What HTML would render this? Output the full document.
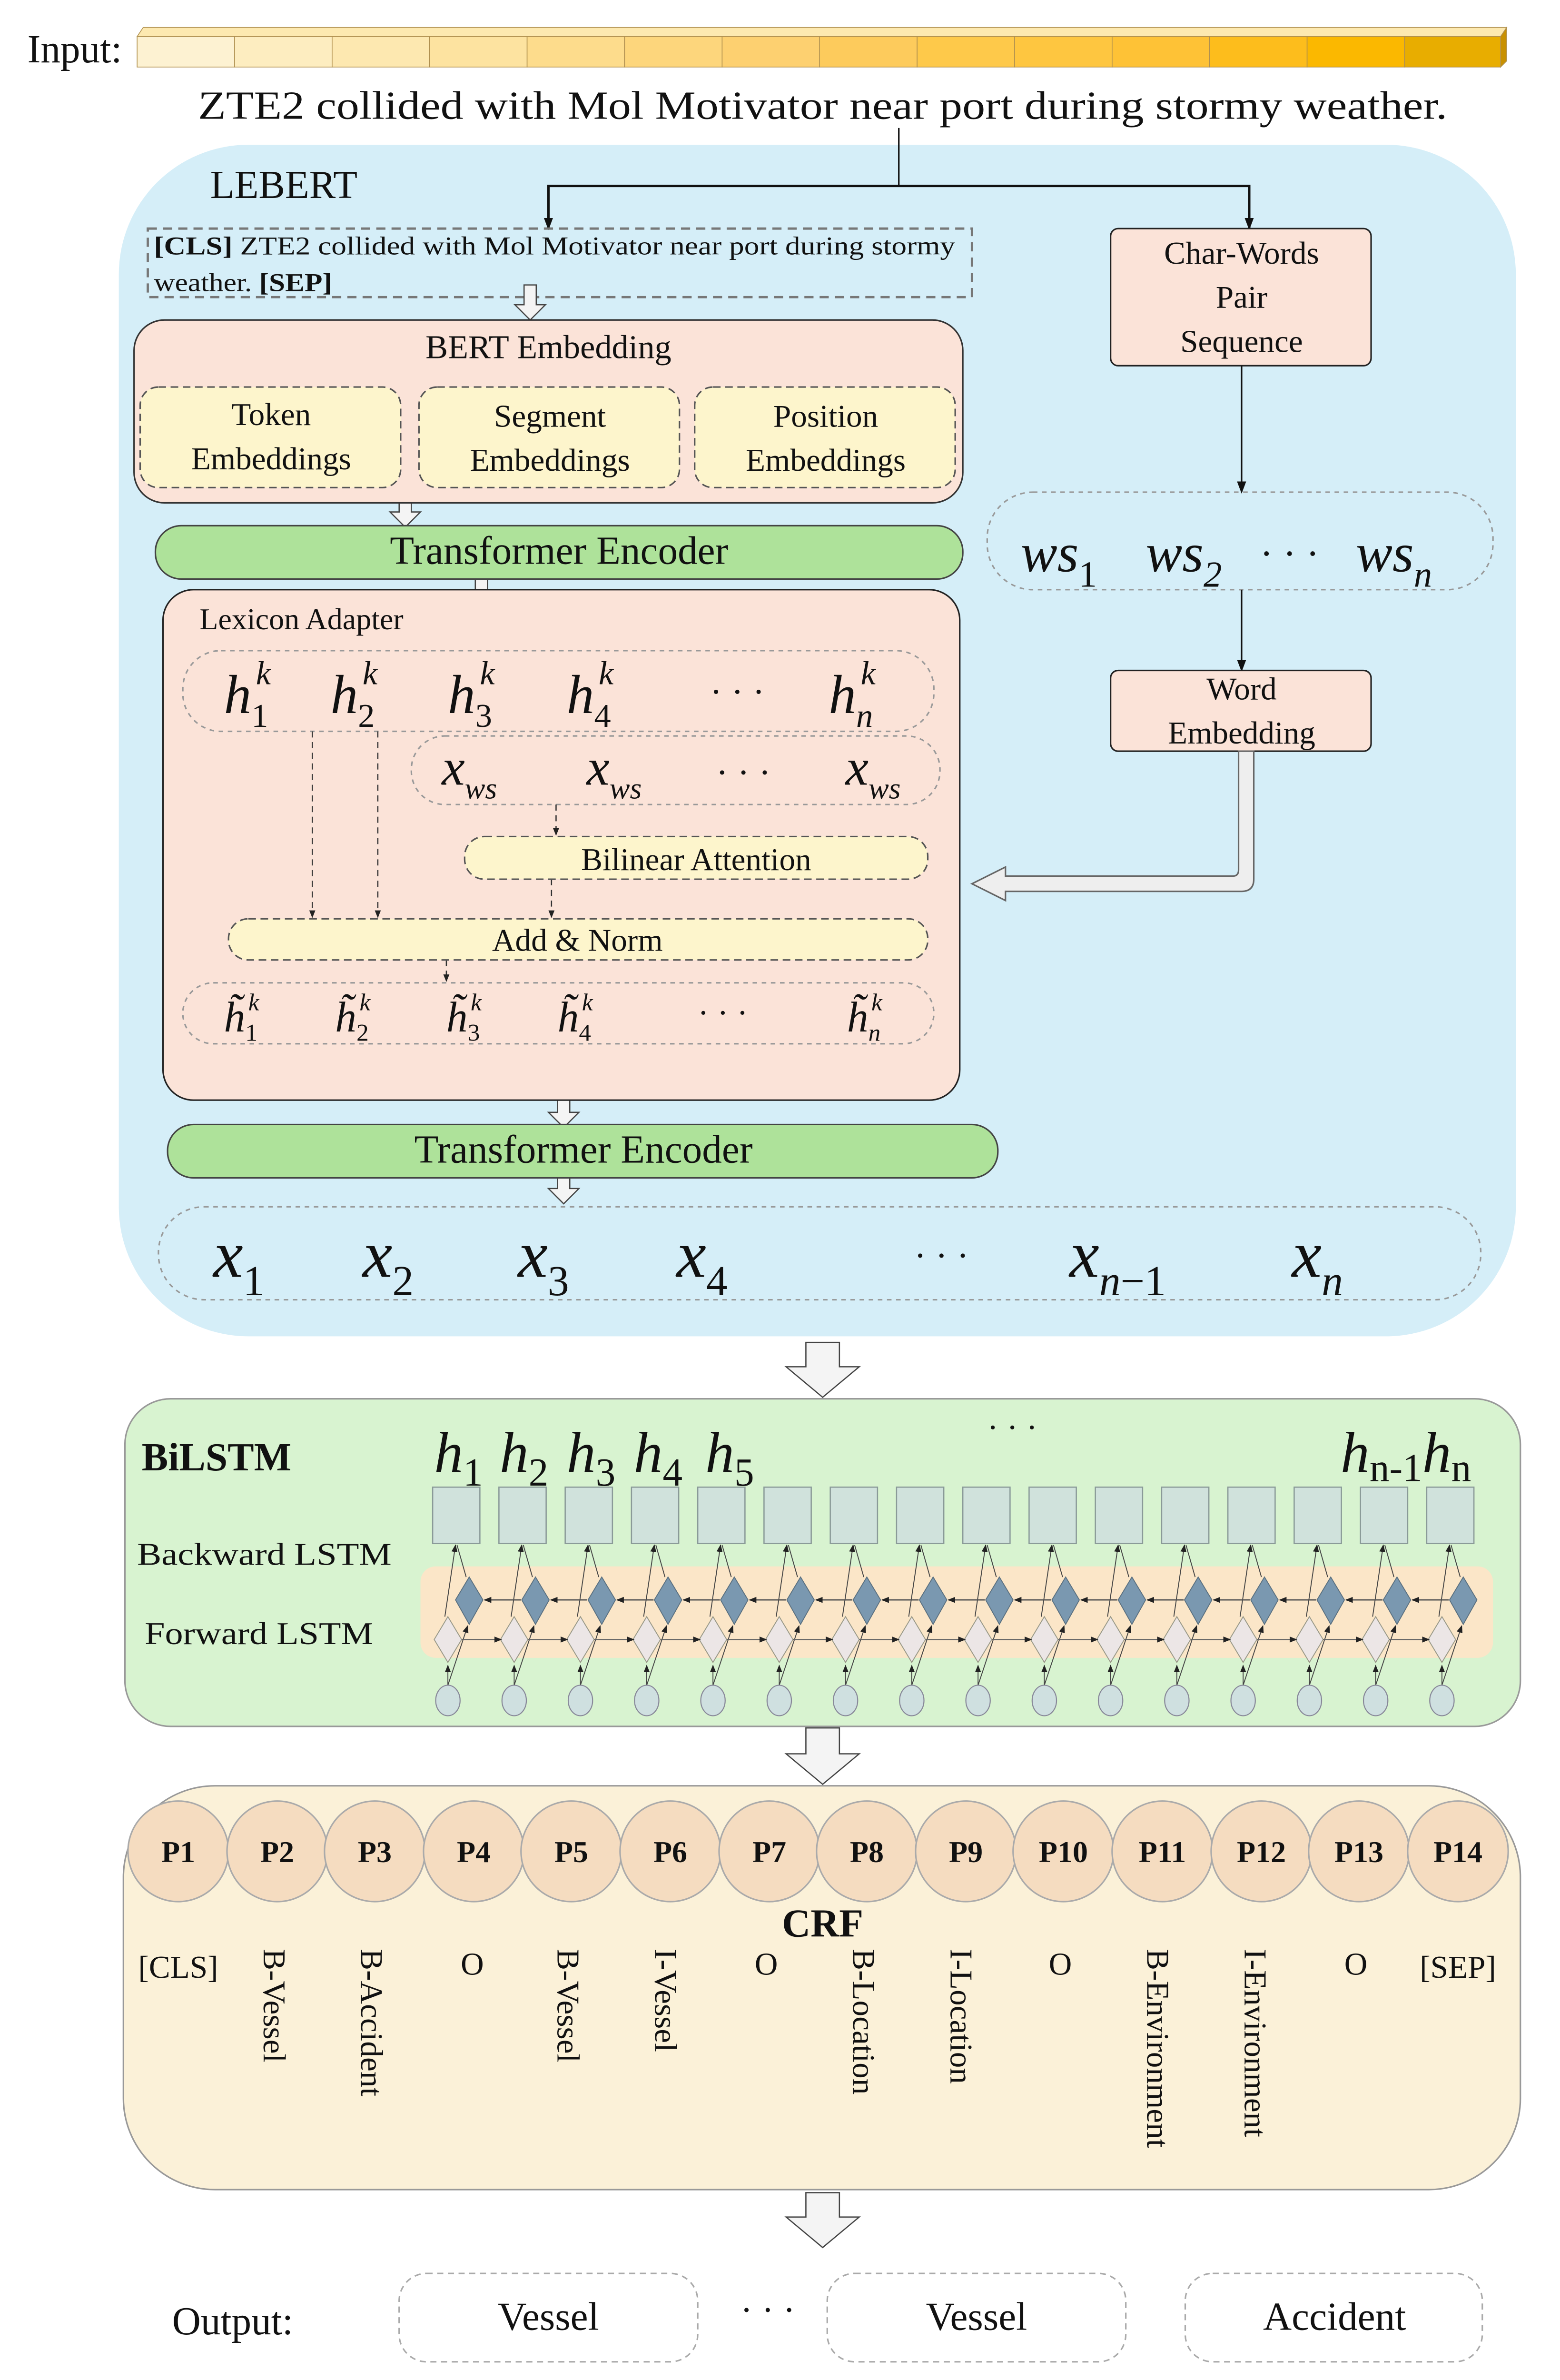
<!DOCTYPE html>
<html><head><meta charset="utf-8"><style>html,body{margin:0;padding:0;background:#fff;width:3278px;height:5036px;overflow:hidden}svg{display:block}text{font-family:"Liberation Serif","Times New Roman",Times,serif;fill:#111}</style></head><body>
<svg width="3278" height="5036" viewBox="0 0 1024 1573.2" preserveAspectRatio="none" xmlns="http://www.w3.org/2000/svg">
<defs>
<marker id="a" markerWidth="8" markerHeight="8" refX="7" refY="4" orient="auto" markerUnits="userSpaceOnUse"><path d="M0,1 L8,4 L0,7 Z" fill="#111"/></marker>
<marker id="s" markerWidth="5" markerHeight="5" refX="4.5" refY="2.5" orient="auto" markerUnits="userSpaceOnUse"><path d="M0,0.5 L5,2.5 L0,4.5 Z" fill="#222"/></marker>
<g id="u">
<rect x="0" y="976" width="31" height="37" fill="#d0e2dc" stroke="#8a9a98" stroke-width="0.8"/>
<line x1="10" y1="1106" x2="10" y2="1093" stroke="#444" stroke-width="0.6" marker-end="url(#s)"/>
<line x1="10" y1="1106" x2="23" y2="1067" stroke="#444" stroke-width="0.6" marker-end="url(#s)"/>
<line x1="8" y1="1061" x2="15" y2="1014" stroke="#444" stroke-width="0.6" marker-end="url(#s)"/>
<line x1="22" y1="1035" x2="16" y2="1014" stroke="#444" stroke-width="0.6"/>
<polygon points="24,1035 33,1050 24,1066 15,1050" fill="#7a98b0" stroke="#5a7080" stroke-width="0.6"/>
<polygon points="10,1061 19,1076 10,1091 1,1076" fill="#ece6e6" stroke="#998" stroke-width="0.6"/>
<ellipse cx="10" cy="1116" rx="8" ry="10" fill="#cfe0e0" stroke="#889" stroke-width="0.7"/>
</g>
<g id="fw"><line x1="19" y1="1076" x2="45" y2="1076" stroke="#666" stroke-width="0.8" marker-end="url(#s)"/><line x1="58" y1="1050" x2="34" y2="1050" stroke="#555" stroke-width="0.8" marker-end="url(#s)"/></g>
</defs>
<text x="18" y="41" font-size="26">Input:</text>
<g stroke="#b09050" stroke-width="0.5">
<polygon points="90,24 94,18 989,18 985,24" fill="#fde9b0"/>
<polygon points="985,24 989,18 989,40 985,44" fill="#c89000"/>
<rect x="90" y="24" width="64" height="20" fill="#fdf2d2"/><rect x="154" y="24" width="64" height="20" fill="#fdedc0"/><rect x="218" y="24" width="64" height="20" fill="#fde8b0"/><rect x="282" y="24" width="64" height="20" fill="#fde3a0"/><rect x="346" y="24" width="64" height="20" fill="#fddc8c"/><rect x="410" y="24" width="64" height="20" fill="#fdd67c"/><rect x="474" y="24" width="64" height="20" fill="#fdd070"/><rect x="538" y="24" width="64" height="20" fill="#fdcb5c"/><rect x="602" y="24" width="64" height="20" fill="#fec94a"/><rect x="666" y="24" width="64" height="20" fill="#fec640"/><rect x="730" y="24" width="64" height="20" fill="#fec236"/><rect x="794" y="24" width="64" height="20" fill="#fdbd1c"/><rect x="858" y="24" width="64" height="20" fill="#fbb800"/><rect x="922" y="24" width="63" height="20" fill="#e8ad00"/>
</g>
<text x="130" y="78" font-size="26" textLength="820" lengthAdjust="spacingAndGlyphs">ZTE2 collided with Mol Motivator near port during stormy weather.</text>
<rect x="78" y="95" width="917" height="782" rx="85" fill="#d5eef8"/>
<text x="138" y="130" font-size="26">LEBERT</text>
<polyline points="590,84 590,122" fill="none" stroke="#111" stroke-width="1"/>
<polyline points="360,150 360,122 820,122 820,150" fill="none" stroke="#111" stroke-width="1.6"/>
<line x1="360" y1="130" x2="360" y2="150" stroke="#111" marker-end="url(#a)"/>
<line x1="820" y1="130" x2="820" y2="150" stroke="#111" marker-end="url(#a)"/>
<rect x="97" y="150" width="541" height="45" fill="none" stroke="#777" stroke-width="1.5" stroke-dasharray="6,4"/>
<text x="101" y="167" font-size="17" textLength="526" lengthAdjust="spacingAndGlyphs"><tspan font-weight="bold">[CLS]</tspan> ZTE2 collided with Mol Motivator near port during stormy</text>
<text x="101" y="191" font-size="17" textLength="117" lengthAdjust="spacingAndGlyphs">weather. <tspan font-weight="bold">[SEP]</tspan></text>
<g fill="#f4f4f4" stroke="#444" stroke-width="0.8">
<polygon points="344,187 352,187 352,200 358,200 348,210 338,200 344,200"/>
<polygon points="262,326 270,326 270,336 276,336 266,346 256,336 262,336"/>
<polygon points="312,377 320,377 320,387 326,387 316,397 306,387 312,387"/>
<polygon points="366,720 374,720 374,730 380,730 370,740 360,730 366,730"/>
<polygon points="366,770 374,770 374,780 380,780 370,790 360,780 366,780"/>
<polygon points="529,881 551,881 551,897 564,897 540,917 516,897 529,897"/>
<polygon points="529,1134 551,1134 551,1151 564,1151 540,1171 516,1151 529,1151"/>
<polygon points="529,1439 551,1439 551,1455 564,1455 540,1475 516,1455 529,1455"/>
</g>
<rect x="88" y="210" width="544" height="120" rx="20" fill="#fbe3d8" stroke="#333" stroke-width="1"/>
<text x="360" y="235" font-size="22" text-anchor="middle">BERT Embedding</text>
<g fill="#fdf5cc" stroke="#555" stroke-width="1" stroke-dasharray="5,3">
<rect x="92" y="254" width="171" height="66" rx="12"/><rect x="275" y="254" width="171" height="66" rx="12"/><rect x="456" y="254" width="171" height="66" rx="12"/>
</g>
<g font-size="21" text-anchor="middle">
<text x="178" y="279">Token</text><text x="178" y="308">Embeddings</text>
<text x="361" y="280">Segment</text><text x="361" y="309">Embeddings</text>
<text x="542" y="280">Position</text><text x="542" y="309">Embeddings</text>
</g>
<rect x="729" y="150" width="171" height="90" rx="5" fill="#fbe3d8" stroke="#222" stroke-width="1"/>
<g font-size="21" text-anchor="middle"><text x="815" y="173">Char-Words</text><text x="815" y="202">Pair</text><text x="815" y="231">Sequence</text></g>
<line x1="815" y1="240" x2="815" y2="323" stroke="#111" marker-end="url(#a)"/>
<rect x="648" y="323" width="332" height="64" rx="30" fill="none" stroke="#999" stroke-width="1" stroke-dasharray="3,3"/>
<g font-size="36" font-style="italic"><text x="670" y="375">ws<tspan font-size="24" font-style="normal" dy="10">1</tspan></text><text x="752" y="375">ws<tspan font-size="24" dy="10">2</tspan></text><text x="890" y="375">ws<tspan font-size="24" dy="10">n</tspan></text></g>
<text x="827" y="372" font-size="26">· · ·</text>
<line x1="815" y1="387" x2="815" y2="440" stroke="#111" marker-end="url(#a)"/>
<rect x="729" y="440" width="171" height="53" rx="5" fill="#fbe3d8" stroke="#222" stroke-width="1"/>
<g font-size="21" text-anchor="middle"><text x="815" y="459">Word</text><text x="815" y="488">Embedding</text></g>
<path d="M813,493 L813,571 Q813,575 809,575 L660,575 L660,569 L638,580 L660,591 L660,585 L815,585 Q823,585 823,577 L823,493 Z" fill="#eee" stroke="#666" stroke-width="1"/>
<rect x="102" y="345" width="530" height="35" rx="17" fill="#aee29a" stroke="#444" stroke-width="1"/>
<text x="367" y="370" font-size="26" text-anchor="middle">Transformer Encoder</text>
<rect x="107" y="387" width="523" height="335" rx="20" fill="#fbe3d8" stroke="#222" stroke-width="1"/>
<text x="131" y="413" font-size="20">Lexicon Adapter</text>
<rect x="120" y="427" width="493" height="53" rx="25" fill="none" stroke="#999" stroke-dasharray="3,3"/>
<g font-size="36" font-style="italic">
<text x="147" y="468">h<tspan font-size="22" font-style="normal" dy="9">1</tspan><tspan font-size="22" dx="-8" dy="-28">k</tspan></text>
<text x="217" y="468">h<tspan font-size="22" font-style="normal" dy="9">2</tspan><tspan font-size="22" dx="-8" dy="-28">k</tspan></text>
<text x="294" y="468">h<tspan font-size="22" font-style="normal" dy="9">3</tspan><tspan font-size="22" dx="-8" dy="-28">k</tspan></text>
<text x="372" y="468">h<tspan font-size="22" font-style="normal" dy="9">4</tspan><tspan font-size="22" dx="-8" dy="-28">k</tspan></text>
<text x="544" y="468">h<tspan font-size="22" dy="9">n</tspan><tspan font-size="22" dx="-8" dy="-28">k</tspan></text>
</g>
<text x="466" y="462" font-size="24">· · ·</text>
<rect x="270" y="483" width="347" height="45" rx="22" fill="none" stroke="#999" stroke-dasharray="3,3"/>
<g font-size="34" font-style="italic"><text x="290" y="515">x<tspan font-size="20" dy="9">ws</tspan></text><text x="385" y="515">x<tspan font-size="20" dy="9">ws</tspan></text><text x="555" y="515">x<tspan font-size="20" dy="9">ws</tspan></text></g>
<text x="470" y="515" font-size="24">· · ·</text>
<g stroke="#333" stroke-width="0.8" stroke-dasharray="4,3" fill="none">
<line x1="205" y1="480" x2="205" y2="602" marker-end="url(#s)"/><line x1="248" y1="480" x2="248" y2="602" marker-end="url(#s)"/>
<line x1="365" y1="528" x2="365" y2="548" marker-end="url(#s)"/><line x1="362" y1="577" x2="362" y2="602" marker-end="url(#s)"/>
<line x1="293" y1="630" x2="293" y2="644" marker-end="url(#s)"/>
</g>
<rect x="305" y="549" width="304" height="28" rx="13" fill="#fdf5cc" stroke="#555" stroke-dasharray="5,3"/>
<text x="457" y="571" font-size="21" text-anchor="middle">Bilinear Attention</text>
<rect x="150" y="603" width="459" height="27" rx="13" fill="#fdf5cc" stroke="#555" stroke-dasharray="5,3"/>
<text x="379" y="624" font-size="21" text-anchor="middle">Add &amp; Norm</text>
<rect x="120" y="645" width="493" height="40" rx="20" fill="none" stroke="#999" stroke-dasharray="3,3"/>
<g font-size="28" font-style="italic">
<text x="147" y="677">h̃<tspan font-size="16" font-style="normal" dy="6">1</tspan><tspan font-size="16" dx="-6" dy="-20">k</tspan></text>
<text x="220" y="677">h̃<tspan font-size="16" font-style="normal" dy="6">2</tspan><tspan font-size="16" dx="-6" dy="-20">k</tspan></text>
<text x="293" y="677">h̃<tspan font-size="16" font-style="normal" dy="6">3</tspan><tspan font-size="16" dx="-6" dy="-20">k</tspan></text>
<text x="366" y="677">h̃<tspan font-size="16" font-style="normal" dy="6">4</tspan><tspan font-size="16" dx="-6" dy="-20">k</tspan></text>
<text x="556" y="677">h̃<tspan font-size="16" dy="6">n</tspan><tspan font-size="16" dx="-6" dy="-20">k</tspan></text>
</g>
<text x="458" y="672" font-size="22">· · ·</text>
<rect x="110" y="738" width="545" height="35" rx="17" fill="#aee29a" stroke="#444" stroke-width="1"/>
<text x="383" y="763" font-size="26" text-anchor="middle">Transformer Encoder</text>
<rect x="104" y="792" width="868" height="61" rx="30" fill="none" stroke="#999" stroke-dasharray="3,3"/>
<g font-size="44" font-style="italic">
<text x="140" y="838">x<tspan font-size="28" font-style="normal" dy="12">1</tspan></text>
<text x="238" y="838">x<tspan font-size="28" font-style="normal" dy="12">2</tspan></text>
<text x="340" y="838">x<tspan font-size="28" font-style="normal" dy="12">3</tspan></text>
<text x="444" y="838">x<tspan font-size="28" font-style="normal" dy="12">4</tspan></text>
<text x="702" y="838">x<tspan font-size="28" dy="12">n</tspan><tspan font-size="28" font-style="normal">−1</tspan></text>
<text x="848" y="838">x<tspan font-size="28" dy="12">n</tspan></text>
</g>
<text x="600" y="832" font-size="24">· · ·</text>
<rect x="82" y="918" width="916" height="215" rx="30" fill="#d8f3d0" stroke="#999" stroke-width="1"/>
<text x="93" y="965" font-size="26" font-weight="bold">BiLSTM</text>
<text x="90" y="1027" font-size="21" textLength="167" lengthAdjust="spacingAndGlyphs">Backward LSTM</text>
<text x="95" y="1079" font-size="21" textLength="150" lengthAdjust="spacingAndGlyphs">Forward LSTM</text>
<g font-size="38" font-style="italic">
<text x="285" y="966">h<tspan font-size="26" font-style="normal" dy="9">1</tspan></text>
<text x="328" y="966">h<tspan font-size="26" font-style="normal" dy="9">2</tspan></text>
<text x="372" y="966">h<tspan font-size="26" font-style="normal" dy="9">3</tspan></text>
<text x="416" y="966">h<tspan font-size="26" font-style="normal" dy="9">4</tspan></text>
<text x="463" y="966">h<tspan font-size="26" font-style="normal" dy="9">5</tspan></text>
<text x="880" y="966">h<tspan font-size="26" font-style="normal" dy="6">n-1</tspan><tspan dy="-6">h</tspan><tspan font-size="26" font-style="normal" dy="6">n</tspan></text>
</g>
<text x="648" y="944" font-size="22">· · ·</text>
<rect x="276" y="1028" width="704" height="60" rx="10" fill="#fbe6c8"/>
<g>
<use href="#u" x="284"/><use href="#u" x="327.5"/><use href="#u" x="371"/><use href="#u" x="414.5"/><use href="#u" x="458"/><use href="#u" x="501.5"/><use href="#u" x="545"/><use href="#u" x="588.5"/><use href="#u" x="632"/><use href="#u" x="675.5"/><use href="#u" x="719"/><use href="#u" x="762.5"/><use href="#u" x="806"/><use href="#u" x="849.5"/><use href="#u" x="893"/><use href="#u" x="936.5"/>
<use href="#fw" x="284"/><use href="#fw" x="327.5"/><use href="#fw" x="371"/><use href="#fw" x="414.5"/><use href="#fw" x="458"/><use href="#fw" x="501.5"/><use href="#fw" x="545"/><use href="#fw" x="588.5"/><use href="#fw" x="632"/><use href="#fw" x="675.5"/><use href="#fw" x="719"/><use href="#fw" x="762.5"/><use href="#fw" x="806"/><use href="#fw" x="849.5"/><use href="#fw" x="893"/>
</g>
<rect x="81" y="1172" width="917" height="265" rx="60" fill="#fbf1d8" stroke="#999" stroke-width="1"/>
<g fill="#f5dcc0" stroke="#aaa" stroke-width="1">
<circle cx="117" cy="1215" r="33"/><circle cx="182" cy="1215" r="33"/><circle cx="246" cy="1215" r="33"/><circle cx="311" cy="1215" r="33"/><circle cx="375" cy="1215" r="33"/><circle cx="440" cy="1215" r="33"/><circle cx="505" cy="1215" r="33"/><circle cx="569" cy="1215" r="33"/><circle cx="634" cy="1215" r="33"/><circle cx="698" cy="1215" r="33"/><circle cx="763" cy="1215" r="33"/><circle cx="828" cy="1215" r="33"/><circle cx="892" cy="1215" r="33"/><circle cx="957" cy="1215" r="33"/>
</g>
<g font-size="20" font-weight="bold" text-anchor="middle">
<text x="117" y="1222">P1</text><text x="182" y="1222">P2</text><text x="246" y="1222">P3</text><text x="311" y="1222">P4</text><text x="375" y="1222">P5</text><text x="440" y="1222">P6</text><text x="505" y="1222">P7</text><text x="569" y="1222">P8</text><text x="634" y="1222">P9</text><text x="698" y="1222">P10</text><text x="763" y="1222">P11</text><text x="828" y="1222">P12</text><text x="892" y="1222">P13</text><text x="957" y="1222">P14</text>
</g>
<text x="540" y="1271" font-size="26" font-weight="bold" text-anchor="middle">CRF</text>
<g font-size="21" text-anchor="middle">
<text x="117" y="1298">[CLS]</text><text x="310" y="1296">O</text><text x="503" y="1296">O</text><text x="696" y="1296">O</text><text x="890" y="1296">O</text><text x="957" y="1298">[SEP]</text>
</g>
<g font-size="21">
<text transform="translate(173,1279) rotate(90)">B-Vessel</text>
<text transform="translate(237,1279) rotate(90)">B-Accident</text>
<text transform="translate(366,1279) rotate(90)">B-Vessel</text>
<text transform="translate(430,1279) rotate(90)">I-Vessel</text>
<text transform="translate(560,1279) rotate(90)">B-Location</text>
<text transform="translate(624,1279) rotate(90)">I-Location</text>
<text transform="translate(753,1279) rotate(90)">B-Environment</text>
<text transform="translate(817,1279) rotate(90)">I-Environment</text>
</g>
<text x="113" y="1532" font-size="26">Output:</text>
<g fill="none" stroke="#aaa" stroke-width="1" stroke-dasharray="4,3">
<rect x="262" y="1492" width="196" height="58" rx="18"/><rect x="543" y="1492" width="196" height="58" rx="18"/><rect x="778" y="1492" width="195" height="58" rx="18"/>
</g>
<g font-size="26" text-anchor="middle"><text x="360" y="1529">Vessel</text><text x="641" y="1529">Vessel</text><text x="876" y="1529">Accident</text></g>
<text x="486" y="1524" font-size="24">· · ·</text>
</svg>
</body></html>
